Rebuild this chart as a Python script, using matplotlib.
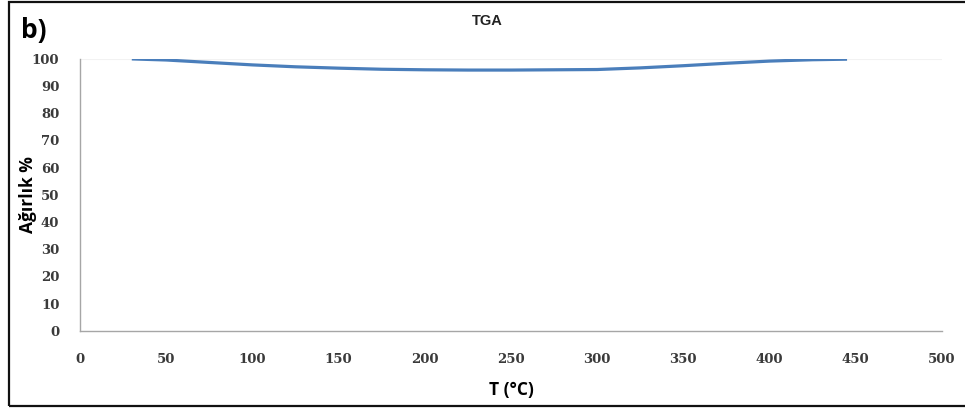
import matplotlib
matplotlib.use("Agg")
import matplotlib.pyplot as plt
from matplotlib.patches import Rectangle

# TGA curve: temperature (°C) vs. mass (%)
temperature = [30, 50, 75, 100, 125, 150, 175, 200, 225, 250, 275, 300, 325, 350, 375, 400, 425, 445]
mass_pct = [100.0, 99.6, 98.7, 97.8, 97.1, 96.6, 96.2, 96.0, 95.9, 95.9, 96.0, 96.1, 96.7, 97.5, 98.4, 99.2, 99.7, 99.9]

x_ticks = [0, 50, 100, 150, 200, 250, 300, 350, 400, 450, 500]
y_ticks = [0, 10, 20, 30, 40, 50, 60, 70, 80, 90, 100]

fig = plt.figure(figsize=(9.65, 4.12), dpi=100)
ax = fig.add_axes([0.083, 0.197, 0.893, 0.660])

ax.plot(temperature, mass_pct, color="#4a7ebb", linewidth=2.3, solid_capstyle="butt")

ax.set_xlim(0, 500)
ax.set_ylim(0, 100)
ax.set_xticks(x_ticks)
ax.set_yticks(y_ticks)

tick_font = dict(family="DejaVu Serif", weight="bold", size=9.5)
ax.set_xticklabels([str(v) for v in x_ticks], fontdict=tick_font, color="#3a3a3a")
ax.set_yticklabels([str(v) for v in y_ticks], fontdict=tick_font, color="#3a3a3a")
ax.tick_params(axis="both", length=0)
ax.tick_params(axis="x", pad=16)
ax.tick_params(axis="y", pad=15)

# faint gridline at the top of the scale
ax.axhline(100, color="#f2f2f2", linewidth=0.8, zorder=0)

for side in ("top", "right"):
    ax.spines[side].set_visible(False)
for side in ("left", "bottom"):
    ax.spines[side].set_color("#a6a6a6")
    ax.spines[side].set_linewidth(1.0)

ax.set_xlabel("T (°C)", family="Open Sans", weight="bold", size=12.5, labelpad=11)
fig.text(0.029, 0.527, "Ağırlık %", rotation=90, ha="center", va="center",
         family="Open Sans", weight="bold", size=12.5)

fig.text(0.505, 0.950, "TGA", ha="center", va="center",
         family="Liberation Sans", weight="bold", size=10.5, color="#222222")
fig.text(0.022, 0.927, "b)", ha="left", va="center",
         family="Open Sans", weight="bold", size=19)

# frame around the panel
fig.patches.append(Rectangle((0.0095, 0.015), 1.2, 0.98, transform=fig.transFigure,
                             fill=False, edgecolor="#111111", linewidth=1.6))

fig.savefig("out.png", dpi=100)
